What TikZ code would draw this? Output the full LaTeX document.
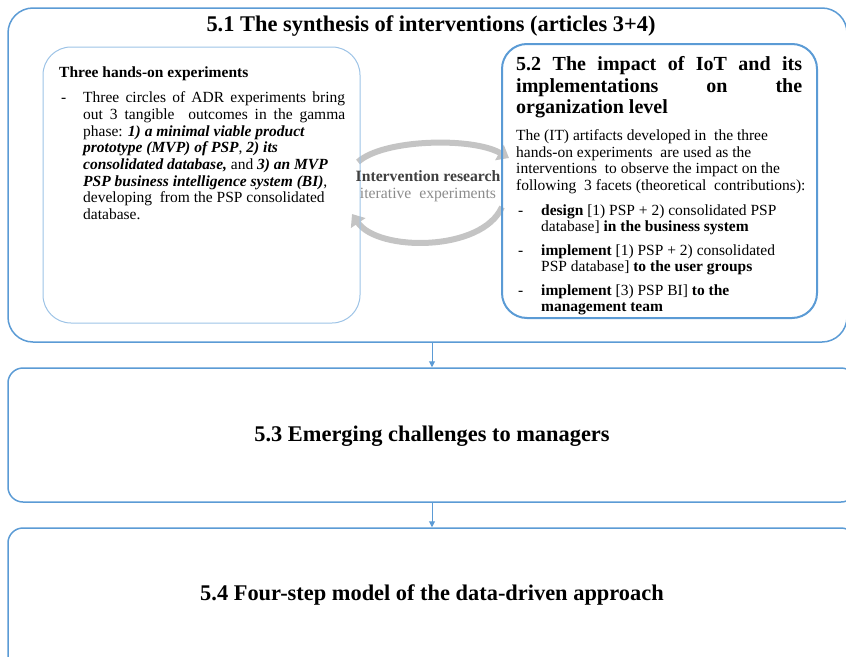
\documentclass[tikz,border=0pt]{standalone}
\usepackage{fontspec}
\setmainfont{Liberation Serif}
\usetikzlibrary{arrows.meta}
\definecolor{bblue}{HTML}{5B9BD5}
\definecolor{lblue}{HTML}{9DC3E6}
\definecolor{cycgray}{HTML}{C4C4C4}
\definecolor{dgray}{HTML}{404040}
\definecolor{mgray}{HTML}{8C8C8C}
\begin{document}
\begin{tikzpicture}[x=1pt,y=-1pt,
  bigbox/.style={draw=bblue,line width=1.5pt,rounded corners=#1,inner sep=0pt},
  leftbox/.style={draw=lblue,line width=1pt,rounded corners=28pt,inner sep=0pt},
  rightbox/.style={draw=bblue,line width=2pt,rounded corners=25pt,inner sep=0pt},
  txt/.style={anchor=base west,inner sep=0pt},
  title/.style={anchor=base,inner sep=0pt,font=\fontsize{22.4}{26}\selectfont\bfseries},
  conn/.style={draw=bblue,line width=1pt,-{Triangle[width=6pt,length=6pt]}},
  cyc/.style={draw=cycgray,line width=6pt,-{Triangle[width=17pt,length=11pt]}}
]
\useasboundingbox (0,0) rectangle (846,656);

% cycle arrows
\coordinate (c1a) at (358,162);
\coordinate (c1b) at (509,158);
\coordinate (c2a) at (502,207);
\coordinate (c2b) at (352,214);
\draw[cyc] (c1a) .. controls (383,139) and (472,137) .. (c1b);
\draw[cyc] (c2a) .. controls (482,252) and (378,252) .. (c2b);

% boxes
\node[bigbox=25pt,minimum width=839pt,minimum height=334pt] (s51) at (427.5,175) {};
\node[bigbox=15pt,minimum width=848pt,minimum height=134pt] (s53) at (432,435) {};
\node[bigbox=15pt,minimum width=848pt,minimum height=172pt] (s54) at (432,614) {};
\node[leftbox,minimum width=317pt,minimum height=276pt] (lb) at (201.5,185) {};
\node[rightbox,minimum width=315pt,minimum height=274pt] (rb) at (659.5,181) {};

% connectors
\draw[conn] (s51.south -| s53.north) -- (s53.north);
\draw[conn] (s53.south) -- (s54.north);

% titles
\node[title] (t51) at (431,31.7) {5.1 The synthesis of interventions (articles 3+4)};
\node[title] (t53) at (432,441.7) {5.3 Emerging challenges to managers};
\node[title] (t54) at (432,600.7) {5.4 Four-step model of the data-driven approach};

% centre text
\node[anchor=base,inner sep=0pt,font=\fontsize{15.7}{17}\selectfont\bfseries,text=dgray] (ir) at (428,181) {Intervention research};
\node[anchor=base,inner sep=0pt,font=\fontsize{15.7}{17}\selectfont,text=mgray] (ie) at (428,198) {iterative\ \ experiments};

% left box text
\node[txt,font=\fontsize{15.5}{16.7}\selectfont\bfseries] (lh) at (59,77.3) {Three hands-on experiments};
\node[txt,font=\fontsize{15.5}{16.7}\selectfont] (ld) at (61,102.7) {-};
\node[txt] (lt) at (83,102.7) {\parbox[t]{275pt}{\fontsize{15.5}{16.7}\selectfont\raggedright
\makebox[262pt][s]{Three circles of ADR experiments bring}\\
\makebox[262pt][s]{out 3 tangible\ \ outcomes in the gamma}\\
phase: \textbf{\textit{1) a minimal viable product}}\\
\textbf{\textit{prototype (MVP) of PSP}}, \textbf{\textit{2) its}}\\
\textbf{\textit{consolidated database,}} and \textbf{\textit{3) an MVP}}\\
\textbf{\textit{PSP business intelligence system (BI)}},\\
developing\ \ from the PSP consolidated\\
database.}};

% right box text
\node[txt] (rh) at (516,70.7) {\parbox[t]{286pt}{\fontsize{20}{21.5}\selectfont\bfseries
5.2 The impact of IoT and its\linebreak implementations on the\linebreak organization level}};
\node[txt] (rt) at (516,140.7) {\parbox[t]{295pt}{\fontsize{15.5}{16.5}\selectfont\raggedright
The (IT) artifacts developed in\ \ the three\\
hands-on experiments\ \ are used as the\\
interventions\ \ to observe the impact on the\\
following\ \ 3 facets (theoretical\ \ contributions):}};
\node[txt,font=\fontsize{15.5}{16}\selectfont] (rd1) at (518,215) {-};
\node[txt] (rb1) at (541,215) {\parbox[t]{275pt}{\fontsize{15.5}{16}\selectfont\raggedright
\textbf{design} [1) PSP + 2) consolidated PSP\\
database] \textbf{in the business system}}};
\node[txt,font=\fontsize{15.5}{16}\selectfont] (rd2) at (518,255) {-};
\node[txt] (rb2) at (541,255) {\parbox[t]{275pt}{\fontsize{15.5}{16}\selectfont\raggedright
\textbf{implement} [1) PSP + 2) consolidated\\
PSP database] \textbf{to the user groups}}};
\node[txt,font=\fontsize{15.5}{16}\selectfont] (rd3) at (518,295) {-};
\node[txt] (rb3) at (541,295) {\parbox[t]{275pt}{\fontsize{15.5}{16}\selectfont\raggedright
\textbf{implement} [3) PSP BI] \textbf{to the}\\
\textbf{management team}}};
\end{tikzpicture}
\end{document}
